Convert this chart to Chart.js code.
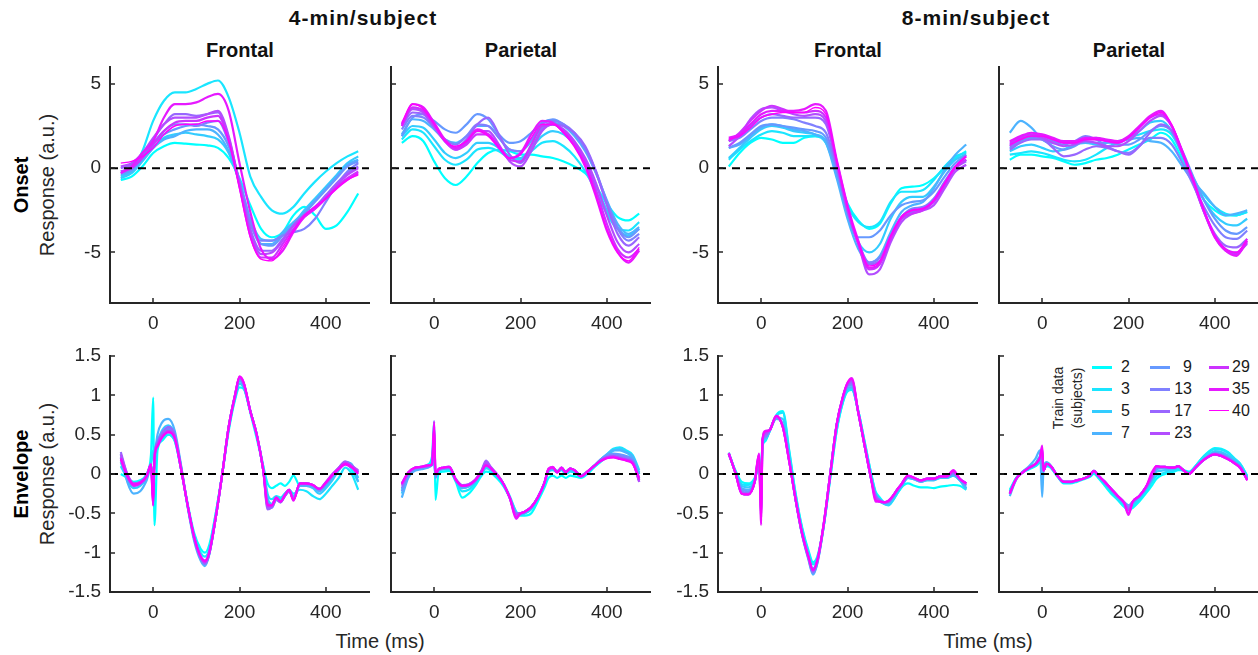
<!DOCTYPE html>
<html><head><meta charset="utf-8">
<script src="https://cdn.jsdelivr.net/npm/chart.js@4.4.1/dist/chart.umd.min.js"></script>
<style>
html,body{margin:0;padding:0;background:#fff;width:1258px;height:655px;overflow:hidden;position:relative;font-family:Arial,"Liberation Sans",Helvetica,sans-serif;}
canvas{position:absolute;}
.t{position:absolute;transform:translate(-50%,-50%);white-space:nowrap;color:#111;font-weight:bold;}
.v{position:absolute;transform:translate(-50%,-50%) rotate(-90deg);white-space:nowrap;color:#262626;}
.sw{position:absolute;height:2px;width:20px;}
.lg{position:absolute;font-size:16px;color:#1a1a1a;transform:translateY(-50%);white-space:nowrap;}
</style></head><body>
<div class="t" style="left:363px;top:18px;font-size:21px;letter-spacing:1px">4-min/subject</div>
<div class="t" style="left:976px;top:18px;font-size:21px;letter-spacing:1px">8-min/subject</div>
<div class="t" style="left:240px;top:50px;font-size:20px">Frontal</div>
<div class="t" style="left:521px;top:50px;font-size:20px">Parietal</div>
<div class="t" style="left:848px;top:50px;font-size:20px">Frontal</div>
<div class="t" style="left:1129px;top:50px;font-size:20px">Parietal</div>
<div class="v" style="left:21px;top:185px;font-size:20px;font-weight:bold;color:#000">Onset</div>
<div class="v" style="left:47px;top:185px;font-size:20px">Response (a.u.)</div>
<div class="v" style="left:21px;top:474px;font-size:20px;font-weight:bold;color:#000">Envelope</div>
<div class="v" style="left:47px;top:474px;font-size:20px">Response (a.u.)</div>
<div class="t" style="left:380px;top:641px;font-size:20px;font-weight:normal;color:#262626">Time (ms)</div>
<div class="t" style="left:988px;top:641px;font-size:20px;font-weight:normal;color:#262626">Time (ms)</div>
<div class="v" style="left:1058px;top:398px;font-size:14px">Train data</div>
<div class="v" style="left:1077px;top:398px;font-size:14px">(subjects)</div>
<div id="legend"></div>
<script>
// ---------- data ----------
const subjects = ['2','3','5','7','9','13','17','23','29','35','40'];
const xTicks = [0, 200, 400];
const onsetYTicks = [-5, 0, 5];
const envYTicks = [-1.5, -1, -0.5, 0, 0.5, 1, 1.5];
const zeroLineX = [-100, 500];

const onsetTimes = [-75,-50,-25,0,25,50,75,100,125,150,175,200,225,250,275,300,325,350,375,400,425,450,475];
const envTimes = [-75,-60,-45,-30,-15,-5,0,3,10,20,35,50,65,80,95,110,120,130,145,160,175,190,200,210,225,240,255,265,275,285,295,305,315,325,340,355,370,385,400,415,430,445,460,475];

// 4-min/subject, Frontal, Onset
const onsetFrontal4 = [
 [-0.7,-0.5,0.1,0.9,1.3,1.5,1.45,1.4,1.35,1.2,0.6,-0.6,-2.2,-3.6,-4.1,-3.8,-2.8,-2.3,-2.8,-3.6,-3.4,-2.6,-1.5],
 [-0.5,-0.2,1.0,2.8,4.0,4.5,4.5,4.7,5.0,5.2,4.2,2.1,-0.5,-1.7,-2.5,-2.7,-2.3,-1.5,-0.8,-0.2,0.3,0.7,1.0],
 [-0.6,-0.3,0.4,1.2,1.8,2.0,2.1,2.0,1.9,1.7,0.9,-0.8,-3.0,-4.2,-4.3,-3.9,-3.3,-2.5,-1.8,-1.1,-0.4,0.3,0.7],
 [-0.4,-0.2,0.5,1.2,1.7,1.9,2.2,2.3,2.3,2.0,1.0,-0.9,-3.2,-4.5,-4.5,-3.8,-3.2,-2.6,-1.9,-1.2,-0.5,0.2,0.5],
 [-0.3,-0.1,0.6,1.4,2.0,2.3,2.5,2.6,2.5,2.3,1.3,-0.7,-3.1,-4.5,-4.6,-4.0,-3.4,-2.7,-2.0,-1.3,-0.6,0.1,0.4],
 [-0.2,0.0,0.7,1.5,2.2,2.6,2.6,2.5,2.7,2.8,1.5,-0.8,-3.3,-4.3,-4.3,-4.0,-3.8,-3.6,-3.0,-2.0,-1.0,-0.2,0.3],
 [0.0,0.2,0.8,1.7,2.6,3.2,3.2,3.1,3.2,3.3,1.8,-0.9,-3.6,-4.9,-4.9,-4.2,-3.4,-2.8,-2.3,-1.6,-0.9,-0.3,0.1],
 [0.1,0.3,0.9,1.8,2.6,3.0,3.0,3.0,3.2,3.4,1.9,-1.0,-3.8,-5.1,-5.0,-4.3,-3.4,-2.8,-2.3,-1.7,-1.0,-0.4,0.0],
 [-0.2,0.0,0.6,1.4,2.2,2.7,2.8,2.8,3.0,3.1,1.7,-1.1,-4.0,-5.3,-5.3,-4.5,-3.6,-2.9,-2.4,-1.8,-1.1,-0.6,-0.2],
 [-0.3,0.1,0.9,1.6,3.0,3.8,3.8,3.9,4.2,4.4,3.4,0.3,-2.6,-4.8,-5.4,-4.9,-3.8,-2.9,-2.4,-1.8,-1.2,-0.7,-0.3],
 [0.3,0.4,0.7,1.2,2.0,2.5,2.6,2.6,2.8,2.8,1.6,-1.2,-4.1,-5.4,-5.5,-4.7,-3.7,-2.8,-2.3,-1.8,-1.2,-0.7,-0.4]
];
// 4-min/subject, Parietal, Onset
const onsetParietal4 = [
 [1.5,1.9,1.6,0.4,-0.6,-1.0,-0.5,0.3,0.9,1.1,1.0,0.8,0.8,0.7,0.6,0.4,0.1,-0.3,-1.1,-2.1,-2.9,-3.1,-2.7],
 [1.7,2.3,2.1,1.3,0.5,0.2,0.5,1.1,1.2,1.0,0.6,0.5,1.0,1.5,1.6,1.3,0.7,-0.2,-1.4,-2.7,-3.6,-3.7,-3.2],
 [1.9,2.5,2.4,1.7,0.9,0.6,0.9,1.5,1.5,1.2,0.7,0.6,1.2,1.9,2.2,2.0,1.4,0.4,-1.0,-2.5,-3.6,-4.0,-3.6],
 [2.0,2.9,2.8,2.3,1.7,1.5,1.9,2.5,2.5,1.8,1.1,1.0,1.6,2.4,2.7,2.5,1.9,1.0,-0.3,-1.9,-3.3,-3.9,-3.5],
 [1.9,3.0,3.2,2.8,2.3,2.1,2.6,3.2,2.9,2.0,1.5,1.6,2.1,2.7,2.9,2.6,2.0,1.1,-0.3,-2.0,-3.5,-4.1,-3.6],
 [2.3,3.1,3.0,2.4,1.7,1.4,1.9,2.6,2.5,1.8,1.1,1.0,1.7,2.6,2.8,2.6,2.1,1.2,-0.2,-2.0,-3.6,-4.3,-3.9],
 [2.5,3.3,3.2,2.4,1.6,1.2,1.7,2.6,3.0,2.0,0.8,0.3,1.2,2.3,2.6,2.5,2.1,1.3,-0.2,-2.2,-3.9,-4.6,-4.1],
 [2.6,3.5,3.3,2.5,1.6,1.1,1.5,2.2,2.2,1.4,0.4,0.1,1.0,2.2,2.6,2.3,1.6,0.6,-0.9,-2.8,-4.4,-5.0,-4.5],
 [2.6,3.6,3.4,2.6,1.6,1.1,1.4,2.0,2.0,1.2,0.5,0.4,1.4,2.5,2.6,2.2,1.5,0.4,-1.3,-3.3,-4.8,-5.3,-4.8],
 [2.5,3.8,3.6,2.7,1.7,1.2,1.6,2.3,2.0,1.3,0.6,0.9,2.0,2.8,2.7,2.1,1.3,0.1,-1.7,-3.7,-5.0,-5.6,-4.9],
 [2.7,3.8,3.5,2.6,1.6,1.3,1.6,2.2,1.9,1.2,0.6,0.8,1.8,2.6,2.6,2.1,1.3,0.2,-1.6,-3.6,-5.0,-5.5,-4.7]
];
// 8-min/subject, Frontal, Onset
const onsetFrontal8 = [
 [0.1,0.9,1.5,1.8,1.7,1.5,1.5,1.8,1.9,1.5,-0.3,-2.1,-3.1,-3.6,-3.3,-2.1,-1.2,-1.1,-1.0,-0.6,0.0,0.6,1.0],
 [0.5,1.1,1.6,2.0,2.2,2.1,1.9,1.9,1.9,1.6,-0.1,-2.2,-3.2,-3.5,-3.2,-2.0,-1.4,-1.4,-1.3,-0.7,0.1,0.7,0.9],
 [0.6,1.2,1.8,2.3,2.5,2.4,2.2,2.1,2.0,1.6,-0.4,-2.8,-4.4,-5.0,-4.5,-3.0,-2.0,-1.7,-1.7,-1.1,-0.2,0.5,0.8],
 [1.2,1.4,1.9,2.4,2.6,2.5,2.3,2.2,2.0,1.5,-0.6,-3.0,-4.8,-5.6,-5.2,-3.8,-2.6,-2.2,-2.0,-1.2,-0.1,0.8,1.4],
 [1.2,1.5,2.0,2.5,2.6,2.5,2.4,2.3,2.2,1.8,-0.2,-2.6,-4.1,-4.1,-3.7,-2.8,-2.2,-2.0,-1.9,-1.4,-0.5,0.3,0.8],
 [1.6,1.8,2.3,2.8,3.0,3.0,2.9,2.7,2.5,2.1,0.0,-2.6,-4.4,-5.6,-5.3,-4.0,-2.9,-2.4,-2.3,-1.8,-0.8,0.1,0.5],
 [1.7,1.9,2.5,3.0,3.2,3.1,3.0,3.0,3.0,2.6,0.2,-2.5,-4.4,-5.7,-5.5,-4.2,-3.0,-2.6,-2.4,-2.0,-1.0,0.0,0.4],
 [1.3,1.9,2.9,3.5,3.6,3.4,3.2,3.1,3.2,2.8,0.3,-2.5,-4.5,-6.3,-6.0,-4.4,-3.2,-2.7,-2.5,-2.2,-1.2,-0.2,0.2],
 [1.6,2.1,2.8,3.4,3.7,3.5,3.3,3.3,3.4,3.0,0.4,-2.3,-4.5,-6.0,-5.7,-4.2,-3.0,-2.7,-2.5,-2.0,-1.0,0.0,0.5],
 [1.8,2.0,2.6,3.2,3.4,3.4,3.4,3.5,3.8,3.4,0.5,-2.2,-4.3,-5.9,-5.6,-4.1,-2.9,-2.5,-2.4,-1.9,-0.9,0.1,0.7],
 [1.7,1.9,2.4,3.0,3.2,3.3,3.3,3.3,3.6,3.2,0.4,-2.3,-4.4,-5.8,-5.5,-4.0,-2.9,-2.5,-2.4,-1.9,-0.9,0.1,0.7]
];
// 8-min/subject, Parietal, Onset
const onsetParietal8 = [
 [0.5,0.8,0.8,0.7,0.6,0.4,0.2,0.3,0.5,0.6,0.8,1.1,1.4,1.7,2.1,1.7,0.5,-0.9,-1.9,-2.5,-2.8,-2.8,-2.6],
 [0.8,0.9,1.0,0.9,0.7,0.5,0.4,0.5,0.8,1.2,1.5,1.8,2.0,2.2,2.3,2.0,0.8,-0.6,-1.6,-2.3,-2.7,-2.8,-2.6],
 [1.0,1.3,1.4,1.2,1.0,1.1,1.4,1.5,1.4,1.3,1.5,1.8,2.2,2.7,2.8,2.2,0.8,-0.7,-1.9,-2.8,-3.3,-3.4,-3.0],
 [2.1,2.8,2.4,1.7,1.5,1.6,1.5,1.5,1.5,1.5,1.6,1.7,1.8,1.6,1.5,1.0,0.1,-0.8,-1.5,-2.3,-2.8,-2.7,-2.5],
 [1.2,1.6,1.8,1.7,1.3,1.1,1.3,1.7,1.8,1.6,1.4,1.4,1.7,2.2,2.5,2.2,1.0,-0.5,-1.9,-3.0,-3.7,-3.9,-3.5],
 [1.4,1.7,1.9,1.9,1.6,1.4,1.6,1.9,1.7,1.3,1.0,0.9,1.3,1.8,1.8,1.4,0.3,-1.0,-2.3,-3.4,-4.1,-4.2,-3.7],
 [1.1,1.5,1.7,1.7,1.2,0.7,0.8,1.1,1.3,1.2,1.0,0.8,1.3,2.1,2.6,2.2,0.8,-0.9,-2.6,-3.9,-4.6,-4.7,-4.2],
 [1.3,1.7,1.9,1.8,1.5,1.3,1.4,1.6,1.5,1.3,1.3,1.6,2.2,2.8,3.1,2.5,1.0,-0.8,-2.6,-4.0,-4.8,-5.0,-4.5],
 [1.5,1.8,2.0,1.9,1.7,1.5,1.5,1.7,1.7,1.6,1.5,1.8,2.4,3.0,3.2,2.5,0.9,-0.8,-2.6,-4.1,-4.9,-5.1,-4.4],
 [1.6,1.9,2.1,2.0,1.8,1.6,1.6,1.8,1.8,1.7,1.6,1.9,2.5,3.1,3.4,2.5,0.9,-0.7,-2.5,-4.1,-4.9,-5.2,-4.3],
 [1.4,1.7,1.9,1.9,1.7,1.5,1.5,1.7,1.7,1.6,1.5,1.8,2.4,3.0,3.3,2.6,1.0,-0.7,-2.5,-4.0,-4.8,-5.0,-4.2]
];
// 4-min/subject, Frontal, Envelope
const envFrontal4 = [
 [0.0,-0.05,-0.1,-0.08,0.0,0.25,0.97,-0.65,0.3,0.42,0.5,0.42,0.05,-0.38,-0.75,-0.95,-1.0,-0.9,-0.5,0.0,0.55,0.95,1.1,1.08,0.78,0.45,0.1,-0.12,-0.18,-0.15,-0.12,-0.15,-0.1,-0.02,-0.15,-0.12,-0.15,-0.2,-0.15,-0.05,0.05,0.15,0.05,-0.1],
 [0.1,-0.05,-0.12,-0.1,0.0,0.15,0.3,0.05,0.35,0.45,0.5,0.42,0.05,-0.4,-0.78,-1.0,-1.05,-0.95,-0.5,0.0,0.58,0.98,1.15,1.1,0.8,0.48,0.1,-0.25,-0.32,-0.28,-0.3,-0.25,-0.2,-0.25,-0.2,-0.22,-0.28,-0.32,-0.25,-0.15,-0.05,0.08,0.0,-0.2],
 [0.15,-0.08,-0.18,-0.15,-0.05,0.1,0.0,0.15,0.4,0.55,0.62,0.5,0.08,-0.42,-0.82,-1.08,-1.15,-1.0,-0.55,0.0,0.58,0.98,1.15,1.1,0.8,0.5,0.08,-0.3,-0.38,-0.3,-0.32,-0.25,-0.2,-0.28,-0.15,-0.15,-0.18,-0.25,-0.18,-0.08,0.05,0.15,0.12,-0.05],
 [0.25,-0.1,-0.25,-0.22,-0.08,0.08,-0.1,0.2,0.5,0.65,0.7,0.55,0.1,-0.42,-0.85,-1.1,-1.17,-1.02,-0.55,0.0,0.58,1.0,1.18,1.12,0.8,0.5,0.05,-0.35,-0.4,-0.32,-0.35,-0.28,-0.22,-0.3,-0.15,-0.15,-0.17,-0.22,-0.15,-0.05,0.06,0.15,0.12,-0.1],
 [0.2,-0.05,-0.15,-0.13,-0.03,0.1,-0.15,0.2,0.38,0.5,0.58,0.48,0.08,-0.4,-0.82,-1.07,-1.15,-1.02,-0.55,0.0,0.6,1.0,1.2,1.13,0.8,0.5,0.05,-0.35,-0.42,-0.32,-0.35,-0.28,-0.22,-0.3,-0.13,-0.13,-0.15,-0.2,-0.13,-0.03,0.07,0.14,0.1,0.02],
 [0.22,-0.02,-0.13,-0.12,-0.03,0.12,-0.2,0.22,0.4,0.5,0.57,0.47,0.07,-0.4,-0.81,-1.06,-1.14,-1.01,-0.55,0.0,0.6,1.0,1.21,1.14,0.8,0.5,0.05,-0.38,-0.43,-0.33,-0.36,-0.28,-0.22,-0.32,-0.13,-0.13,-0.15,-0.2,-0.12,-0.02,0.08,0.15,0.1,0.03],
 [0.28,0.0,-0.12,-0.11,-0.02,0.13,-0.3,0.22,0.4,0.52,0.6,0.5,0.06,-0.41,-0.82,-1.07,-1.14,-1.01,-0.55,0.0,0.6,1.02,1.22,1.15,0.8,0.5,0.05,-0.45,-0.42,-0.32,-0.36,-0.28,-0.21,-0.32,-0.12,-0.12,-0.14,-0.19,-0.11,-0.01,0.08,0.16,0.11,0.04],
 [0.25,0.0,-0.12,-0.1,-0.02,0.12,-0.35,0.2,0.38,0.48,0.55,0.47,0.05,-0.4,-0.8,-1.05,-1.12,-1.0,-0.55,0.0,0.6,1.01,1.23,1.15,0.8,0.5,0.05,-0.42,-0.4,-0.3,-0.35,-0.27,-0.2,-0.32,-0.12,-0.12,-0.14,-0.19,-0.1,0.0,0.08,0.15,0.1,0.05],
 [0.2,-0.02,-0.14,-0.12,-0.03,0.12,-0.4,0.2,0.36,0.47,0.54,0.46,0.05,-0.4,-0.8,-1.05,-1.12,-1.0,-0.55,0.0,0.6,1.01,1.23,1.15,0.8,0.5,0.05,-0.4,-0.4,-0.3,-0.35,-0.27,-0.2,-0.33,-0.12,-0.12,-0.14,-0.19,-0.11,-0.01,0.07,0.14,0.09,0.02],
 [0.18,-0.03,-0.15,-0.12,-0.03,0.12,-0.4,0.2,0.35,0.46,0.53,0.45,0.05,-0.4,-0.8,-1.05,-1.1,-0.99,-0.55,0.0,0.6,1.01,1.24,1.16,0.8,0.5,0.05,-0.38,-0.4,-0.3,-0.35,-0.27,-0.2,-0.34,-0.12,-0.12,-0.14,-0.19,-0.11,-0.02,0.06,0.12,0.08,0.0],
 [0.2,-0.02,-0.13,-0.11,-0.02,0.12,-0.38,0.2,0.35,0.46,0.53,0.45,0.05,-0.4,-0.8,-1.05,-1.11,-1.0,-0.55,0.0,0.6,1.01,1.24,1.16,0.8,0.5,0.05,-0.4,-0.4,-0.3,-0.35,-0.27,-0.2,-0.33,-0.12,-0.12,-0.14,-0.19,-0.11,-0.01,0.07,0.13,0.09,0.01]
];
// 4-min/subject, Parietal, Envelope
const envParietal4 = [
 [-0.12,0.0,0.06,0.08,0.12,0.22,0.67,-0.33,0.0,0.03,0.04,-0.1,-0.3,-0.25,-0.15,-0.02,0.03,0.02,-0.05,-0.15,-0.3,-0.48,-0.53,-0.53,-0.5,-0.35,-0.18,-0.05,-0.02,-0.05,-0.02,-0.05,-0.02,-0.03,-0.05,0.0,0.08,0.15,0.22,0.3,0.33,0.28,0.2,0.0],
 [-0.2,-0.02,0.05,0.07,0.1,0.15,0.3,0.0,0.05,0.06,0.06,-0.08,-0.22,-0.2,-0.12,0.0,0.07,0.05,-0.02,-0.12,-0.28,-0.48,-0.52,-0.5,-0.45,-0.3,-0.12,0.03,0.05,0.02,0.05,0.0,0.03,0.02,-0.03,0.02,0.1,0.18,0.25,0.32,0.34,0.3,0.24,0.05],
 [-0.25,-0.03,0.05,0.07,0.09,0.12,0.2,0.0,0.05,0.07,0.07,-0.07,-0.18,-0.16,-0.1,0.02,0.09,0.06,-0.01,-0.12,-0.3,-0.5,-0.52,-0.5,-0.44,-0.3,-0.12,0.04,0.06,0.03,0.06,0.02,0.05,0.03,-0.03,0.02,0.1,0.18,0.24,0.3,0.32,0.28,0.22,0.02],
 [-0.3,-0.05,0.04,0.06,0.08,0.11,0.15,-0.02,0.04,0.06,0.07,-0.08,-0.18,-0.16,-0.1,0.02,0.1,0.06,-0.01,-0.12,-0.3,-0.5,-0.5,-0.48,-0.42,-0.3,-0.12,0.05,0.07,0.04,0.07,0.03,0.06,0.04,-0.03,0.02,0.1,0.18,0.25,0.3,0.3,0.27,0.22,0.0],
 [-0.22,-0.02,0.06,0.08,0.1,0.12,0.3,-0.05,0.05,0.07,0.08,-0.08,-0.16,-0.15,-0.08,0.03,0.12,0.07,0.0,-0.12,-0.3,-0.5,-0.5,-0.48,-0.42,-0.3,-0.12,0.05,0.07,0.03,0.07,0.03,0.07,0.05,-0.02,0.03,0.1,0.18,0.24,0.26,0.25,0.23,0.18,-0.05],
 [-0.18,0.0,0.07,0.08,0.1,0.12,0.4,-0.02,0.05,0.07,0.08,-0.07,-0.15,-0.14,-0.08,0.04,0.14,0.08,0.0,-0.12,-0.3,-0.5,-0.5,-0.48,-0.42,-0.3,-0.12,0.05,0.07,0.03,0.07,0.03,0.07,0.05,-0.02,0.03,0.1,0.17,0.22,0.24,0.23,0.21,0.16,-0.08],
 [-0.15,0.01,0.08,0.09,0.1,0.12,0.5,0.0,0.06,0.08,0.09,-0.06,-0.14,-0.13,-0.08,0.05,0.17,0.1,0.0,-0.12,-0.3,-0.5,-0.5,-0.48,-0.42,-0.3,-0.12,0.06,0.08,0.03,0.08,0.03,0.07,0.05,-0.02,0.03,0.1,0.17,0.21,0.22,0.21,0.19,0.15,-0.1],
 [-0.13,0.02,0.08,0.09,0.1,0.12,0.55,0.0,0.06,0.08,0.09,-0.07,-0.15,-0.13,-0.07,0.04,0.15,0.09,0.0,-0.12,-0.3,-0.52,-0.5,-0.48,-0.42,-0.3,-0.12,0.06,0.08,0.02,0.08,0.02,0.07,0.05,-0.03,0.03,0.1,0.17,0.21,0.22,0.2,0.18,0.14,-0.1],
 [-0.12,0.02,0.08,0.09,0.11,0.12,0.6,0.0,0.06,0.08,0.09,-0.07,-0.15,-0.14,-0.08,0.03,0.12,0.08,-0.01,-0.12,-0.3,-0.55,-0.5,-0.48,-0.42,-0.3,-0.12,0.06,0.08,0.02,0.08,0.02,0.07,0.05,-0.03,0.03,0.1,0.17,0.21,0.22,0.2,0.18,0.14,-0.08],
 [-0.12,0.02,0.08,0.09,0.11,0.12,0.67,0.0,0.06,0.08,0.09,-0.07,-0.15,-0.14,-0.08,0.03,0.11,0.08,-0.01,-0.12,-0.3,-0.57,-0.5,-0.48,-0.42,-0.3,-0.12,0.07,0.09,0.02,0.08,0.02,0.07,0.05,-0.03,0.03,0.1,0.16,0.2,0.21,0.19,0.17,0.13,-0.05],
 [-0.13,0.02,0.08,0.09,0.11,0.12,0.63,0.0,0.06,0.08,0.09,-0.07,-0.15,-0.14,-0.08,0.03,0.11,0.08,-0.01,-0.12,-0.3,-0.55,-0.5,-0.48,-0.42,-0.3,-0.12,0.06,0.08,0.02,0.08,0.02,0.07,0.05,-0.03,0.03,0.1,0.16,0.2,0.21,0.19,0.17,0.13,-0.06]
];
// 8-min/subject, Frontal, Envelope
const envFrontal8 = [
 [0.25,0.05,-0.1,-0.12,-0.05,0.1,0.05,0.35,0.42,0.55,0.75,0.8,0.3,-0.25,-0.68,-0.98,-1.12,-1.05,-0.65,-0.05,0.55,0.92,1.05,1.07,0.8,0.4,0.0,-0.22,-0.3,-0.36,-0.38,-0.33,-0.25,-0.17,-0.12,-0.15,-0.17,-0.17,-0.18,-0.16,-0.15,-0.14,-0.15,-0.2],
 [0.27,0.04,-0.13,-0.14,-0.06,0.12,0.0,0.38,0.44,0.55,0.74,0.78,0.28,-0.27,-0.7,-1.0,-1.15,-1.07,-0.66,-0.05,0.56,0.93,1.06,1.08,0.8,0.4,0.0,-0.24,-0.33,-0.38,-0.4,-0.34,-0.25,-0.17,-0.05,-0.06,-0.08,-0.07,-0.07,-0.05,-0.05,-0.02,-0.08,-0.18],
 [0.26,0.03,-0.15,-0.17,-0.08,0.15,-0.1,0.4,0.45,0.55,0.72,0.7,0.22,-0.3,-0.74,-1.05,-1.2,-1.1,-0.66,-0.03,0.6,0.97,1.08,1.1,0.8,0.38,-0.04,-0.27,-0.35,-0.38,-0.39,-0.32,-0.23,-0.15,-0.05,-0.07,-0.1,-0.08,-0.08,-0.05,-0.05,-0.02,-0.08,-0.2],
 [0.27,0.03,-0.18,-0.2,-0.1,0.16,-0.2,0.42,0.46,0.55,0.7,0.62,0.18,-0.34,-0.78,-1.1,-1.28,-1.14,-0.66,0.0,0.63,0.98,1.1,1.1,0.78,0.36,-0.06,-0.28,-0.35,-0.37,-0.37,-0.3,-0.22,-0.15,-0.05,-0.07,-0.1,-0.07,-0.07,-0.04,-0.04,-0.01,-0.07,-0.18],
 [0.26,0.02,-0.2,-0.22,-0.1,0.18,-0.3,0.43,0.47,0.56,0.72,0.62,0.18,-0.33,-0.77,-1.08,-1.26,-1.13,-0.65,0.0,0.63,0.98,1.12,1.13,0.78,0.35,-0.07,-0.27,-0.33,-0.36,-0.35,-0.29,-0.21,-0.14,-0.04,-0.06,-0.09,-0.07,-0.07,-0.04,-0.04,0.0,-0.07,-0.15],
 [0.27,0.02,-0.22,-0.24,-0.1,0.2,-0.4,0.43,0.48,0.56,0.72,0.61,0.17,-0.33,-0.77,-1.08,-1.25,-1.12,-0.64,0.0,0.63,0.99,1.13,1.15,0.78,0.35,-0.07,-0.27,-0.33,-0.36,-0.35,-0.29,-0.2,-0.13,-0.03,-0.06,-0.09,-0.06,-0.06,-0.03,-0.03,0.01,-0.06,-0.14],
 [0.26,0.02,-0.24,-0.25,-0.1,0.22,-0.5,0.43,0.5,0.56,0.73,0.6,0.16,-0.33,-0.76,-1.07,-1.24,-1.11,-0.64,0.0,0.63,0.99,1.14,1.17,0.78,0.35,-0.07,-0.28,-0.34,-0.36,-0.35,-0.28,-0.2,-0.13,-0.03,-0.05,-0.08,-0.06,-0.06,-0.03,-0.03,0.02,-0.06,-0.12],
 [0.26,0.02,-0.25,-0.26,-0.1,0.24,-0.55,0.43,0.52,0.56,0.74,0.6,0.16,-0.33,-0.76,-1.06,-1.23,-1.1,-0.63,0.0,0.63,0.99,1.15,1.19,0.78,0.35,-0.07,-0.3,-0.35,-0.36,-0.35,-0.28,-0.2,-0.13,-0.02,-0.05,-0.08,-0.06,-0.06,-0.03,-0.03,0.03,-0.06,-0.12],
 [0.26,0.02,-0.25,-0.26,-0.1,0.25,-0.6,0.43,0.54,0.56,0.74,0.6,0.16,-0.33,-0.76,-1.06,-1.22,-1.1,-0.63,0.0,0.63,0.99,1.15,1.2,0.78,0.35,-0.07,-0.32,-0.35,-0.36,-0.34,-0.28,-0.2,-0.13,-0.02,-0.05,-0.08,-0.06,-0.06,-0.03,-0.03,0.04,-0.06,-0.12],
 [0.26,0.02,-0.25,-0.26,-0.1,0.26,-0.65,0.43,0.55,0.56,0.74,0.6,0.16,-0.33,-0.76,-1.06,-1.22,-1.1,-0.63,0.0,0.63,1.0,1.16,1.22,0.78,0.35,-0.07,-0.35,-0.35,-0.36,-0.34,-0.28,-0.2,-0.13,-0.02,-0.05,-0.08,-0.06,-0.06,-0.03,-0.03,0.05,-0.06,-0.12],
 [0.26,0.02,-0.25,-0.26,-0.1,0.25,-0.62,0.43,0.54,0.56,0.74,0.6,0.16,-0.33,-0.76,-1.06,-1.22,-1.1,-0.63,0.0,0.63,1.0,1.16,1.21,0.78,0.35,-0.07,-0.33,-0.35,-0.36,-0.34,-0.28,-0.2,-0.13,-0.02,-0.05,-0.08,-0.06,-0.06,-0.03,-0.03,0.04,-0.06,-0.12]
];
// 8-min/subject, Parietal, Envelope
const envParietal8 = [
 [-0.2,-0.05,0.02,0.06,0.1,0.15,0.2,0.05,0.1,0.08,-0.03,-0.12,-0.12,-0.1,-0.07,-0.04,0.0,-0.05,-0.15,-0.25,-0.33,-0.42,-0.46,-0.43,-0.35,-0.25,-0.14,-0.06,-0.02,0.0,0.02,0.03,0.05,0.05,0.03,0.1,0.2,0.28,0.33,0.32,0.28,0.2,0.12,-0.02],
 [-0.22,-0.05,0.02,0.07,0.11,0.16,0.22,0.05,0.11,0.08,-0.03,-0.11,-0.11,-0.09,-0.06,-0.03,0.02,-0.04,-0.13,-0.23,-0.32,-0.4,-0.44,-0.4,-0.33,-0.22,-0.1,-0.02,0.0,0.02,0.03,0.04,0.06,0.05,0.02,0.1,0.2,0.27,0.32,0.31,0.27,0.2,0.12,-0.03],
 [-0.25,-0.06,0.03,0.08,0.14,0.22,0.15,0.05,0.13,0.1,-0.02,-0.1,-0.1,-0.08,-0.06,-0.02,0.03,-0.03,-0.12,-0.21,-0.3,-0.38,-0.42,-0.38,-0.3,-0.2,-0.07,0.03,0.04,0.05,0.05,0.06,0.08,0.05,0.01,0.08,0.17,0.24,0.29,0.28,0.24,0.18,0.1,-0.04],
 [-0.28,-0.07,0.03,0.1,0.2,0.3,-0.29,0.05,0.15,0.11,-0.02,-0.1,-0.11,-0.09,-0.06,-0.02,0.04,-0.02,-0.1,-0.2,-0.28,-0.36,-0.4,-0.36,-0.29,-0.18,-0.05,0.06,0.07,0.07,0.07,0.07,0.1,0.06,0.01,0.08,0.16,0.23,0.27,0.26,0.22,0.16,0.08,-0.05],
 [-0.25,-0.06,0.02,0.08,0.13,0.2,0.1,0.04,0.13,0.1,-0.02,-0.1,-0.1,-0.08,-0.06,-0.02,0.04,-0.02,-0.1,-0.19,-0.28,-0.36,-0.4,-0.35,-0.28,-0.17,-0.05,0.07,0.08,0.08,0.08,0.08,0.1,0.06,0.01,0.08,0.16,0.22,0.26,0.25,0.21,0.15,0.08,-0.06],
 [-0.24,-0.06,0.02,0.08,0.13,0.2,0.2,0.04,0.13,0.1,-0.02,-0.1,-0.1,-0.08,-0.06,-0.02,0.04,-0.02,-0.1,-0.19,-0.28,-0.36,-0.42,-0.35,-0.28,-0.17,-0.04,0.08,0.08,0.08,0.08,0.08,0.1,0.06,0.0,0.08,0.16,0.22,0.26,0.24,0.2,0.14,0.08,-0.06],
 [-0.24,-0.06,0.02,0.08,0.13,0.21,0.25,0.04,0.13,0.1,-0.02,-0.1,-0.1,-0.08,-0.06,-0.02,0.04,-0.02,-0.1,-0.19,-0.28,-0.36,-0.44,-0.35,-0.28,-0.17,-0.03,0.09,0.09,0.09,0.08,0.08,0.1,0.06,0.0,0.08,0.16,0.22,0.25,0.23,0.19,0.14,0.07,-0.07],
 [-0.24,-0.06,0.02,0.08,0.13,0.21,0.3,0.04,0.13,0.1,-0.02,-0.1,-0.1,-0.08,-0.06,-0.02,0.04,-0.02,-0.1,-0.19,-0.28,-0.36,-0.46,-0.35,-0.28,-0.17,-0.02,0.1,0.09,0.09,0.08,0.08,0.1,0.06,0.0,0.08,0.16,0.22,0.25,0.23,0.19,0.14,0.07,-0.07],
 [-0.25,-0.06,0.02,0.08,0.13,0.21,0.33,0.04,0.13,0.1,-0.02,-0.1,-0.1,-0.08,-0.06,-0.02,0.04,-0.02,-0.1,-0.19,-0.28,-0.37,-0.5,-0.35,-0.28,-0.17,0.0,0.1,0.09,0.09,0.08,0.08,0.1,0.06,0.0,0.08,0.16,0.22,0.25,0.23,0.19,0.14,0.07,-0.08],
 [-0.25,-0.06,0.02,0.08,0.13,0.21,0.36,0.04,0.13,0.1,-0.02,-0.1,-0.1,-0.08,-0.06,-0.02,0.04,-0.02,-0.1,-0.19,-0.28,-0.37,-0.52,-0.35,-0.28,-0.17,0.03,0.1,0.09,0.09,0.08,0.08,0.1,0.06,0.0,0.08,0.16,0.22,0.25,0.23,0.19,0.14,0.07,-0.08],
 [-0.25,-0.06,0.02,0.08,0.13,0.21,0.34,0.04,0.13,0.1,-0.02,-0.1,-0.1,-0.08,-0.06,-0.02,0.04,-0.02,-0.1,-0.19,-0.28,-0.37,-0.5,-0.35,-0.28,-0.17,0.02,0.1,0.09,0.09,0.08,0.08,0.1,0.06,0.0,0.08,0.16,0.22,0.25,0.23,0.19,0.14,0.07,-0.08]
];

// ---------- styles ----------
const colors = ['#00FFFF','#1AE5FF','#33CCFF','#4DB3FF','#6699FF','#8080FF','#9966FF','#B34DFF','#CC33FF','#E61AFF','#FF00FF'];
const widths = [2.2,2.2,2.2,2.2,2.2,2.2,2.2,2.2,2.2,2.2,1.4];
const FONT = 'Arial, "Liberation Sans", Helvetica, sans-serif';
const AX = '#262626';

const panels = [
 {L:110,R:369,T:67,B:303,times:onsetTimes,series:onsetFrontal4,ymin:-8,ymax:6,yt:onsetYTicks,labels:true},
 {L:391,R:650,T:67,B:303,times:onsetTimes,series:onsetParietal4,ymin:-8,ymax:6,yt:onsetYTicks,labels:false},
 {L:718,R:977,T:67,B:303,times:onsetTimes,series:onsetFrontal8,ymin:-8,ymax:6,yt:onsetYTicks,labels:true},
 {L:999,R:1258,T:67,B:303,times:onsetTimes,series:onsetParietal8,ymin:-8,ymax:6,yt:onsetYTicks,labels:false},
 {L:110,R:369,T:356,B:592,times:envTimes,series:envFrontal4,ymin:-1.5,ymax:1.5,yt:envYTicks,labels:true},
 {L:391,R:650,T:356,B:592,times:envTimes,series:envParietal4,ymin:-1.5,ymax:1.5,yt:envYTicks,labels:false},
 {L:718,R:977,T:356,B:592,times:envTimes,series:envFrontal8,ymin:-1.5,ymax:1.5,yt:envYTicks,labels:true},
 {L:999,R:1258,T:356,B:592,times:envTimes,series:envParietal8,ymin:-1.5,ymax:1.5,yt:envYTicks,labels:false}
];

const problems = [];
panels.forEach((p,pi)=>p.series.forEach((s,si)=>{ if(s.length!==p.times.length) problems.push('panel '+pi+' series '+si+' has '+s.length+' vs '+p.times.length); }));

const inTicks = {
 id:'inTicks',
 afterDraw(chart, args, opts){
  const {ctx, chartArea:a, scales:{x,y}} = chart;
  ctx.save(); ctx.strokeStyle = AX; ctx.lineWidth = 1.5; ctx.beginPath();
  opts.xt.forEach(v=>{ const px = Math.round(x.getPixelForValue(v)); ctx.moveTo(px, a.bottom); ctx.lineTo(px, a.bottom-5); });
  opts.yt.forEach(v=>{ const py = Math.round(y.getPixelForValue(v)); ctx.moveTo(a.left, py); ctx.lineTo(a.left+5, py); });
  ctx.stroke(); ctx.restore();
 }
};

function zeroPad(s){ s.paddingTop = 0; s.paddingBottom = 0; s.paddingLeft = 0; s.paddingRight = 0; }

panels.forEach(p=>{
 const c = document.createElement('canvas');
 const W = p.R - p.L + 70, H = p.B - p.T + 50;
 c.width = W; c.height = H; c.style.left = (p.L-60)+'px'; c.style.top = (p.T-10)+'px';
 document.body.appendChild(c);
 const datasets = p.series.map((vals,i)=>({
  label: subjects[i],
  data: p.times.map((t,j)=>({x:t, y:vals[j]})),
  borderColor: colors[i], borderWidth: widths[i], pointRadius: 0, fill: false,
  cubicInterpolationMode: 'monotone', order: 20 - i
 }));
 datasets.push({label:'zero', data: zeroLineX.map(x=>({x, y:0})), borderColor:'#000', borderWidth:2, borderDash:[8,6], pointRadius:0, order:0});
 new Chart(c, {
  type:'line',
  data:{datasets},
  options:{
   responsive:false, animation:false, devicePixelRatio:1,
   layout:{padding:{left:0, top:10, right:10, bottom:0}},
   plugins:{legend:{display:false}, tooltip:{enabled:false}, inTicks:{xt:xTicks, yt:p.yt}},
   scales:{
    x:{type:'linear', min:-100, max:500,
       afterBuildTicks:s=>{ s.ticks = xTicks.map(v=>({value:v})); },
       afterFit:s=>{ s.height = 40; zeroPad(s); },
       grid:{display:false, drawTicks:false},
       border:{display:true, color:AX, width:2},
       ticks:{padding:9, color:AX, font:{family:FONT, size:19}, maxRotation:0, autoSkip:false}},
    y:{type:'linear', min:p.ymin, max:p.ymax,
       afterBuildTicks:s=>{ s.ticks = p.yt.map(v=>({value:v})); },
       afterFit:s=>{ s.width = 60; zeroPad(s); },
       grid:{display:false, drawTicks:false},
       border:{display:true, color:AX, width:2},
       ticks:{display:p.labels, padding:9, color:AX, font:{family:FONT, size:19}, autoSkip:false, callback:v=>String(v)}}
   }
  },
  plugins:[inTicks]
 });
});

// legend (HTML)
const legendPos = [
 {x:1092,y:367},{x:1092,y:389},{x:1092,y:411},{x:1092,y:433},
 {x:1150,y:367},{x:1150,y:389},{x:1150,y:411},{x:1150,y:433},
 {x:1209,y:367},{x:1209,y:389},{x:1209,y:411}
];
const lg = document.getElementById('legend');
subjects.forEach((s,i)=>{
 const pos = legendPos[i];
 const sw = document.createElement('div'); sw.className='sw';
 sw.style.left = pos.x+'px'; sw.style.top = (pos.y-1)+'px'; sw.style.background = colors[i];
 sw.style.height = (i===10?1.3:2.5)+'px';
 lg.appendChild(sw);
 const t = document.createElement('div'); t.className='lg'; t.textContent = s;
 if (i>=4 && i<=7) { t.style.left = (pos.x+22)+'px'; t.style.width='20px'; t.style.textAlign='right'; }
 else { t.style.left = (pos.x+29)+'px'; if(i>=8) t.style.left=(pos.x+23)+'px'; }
 t.style.top = pos.y+'px';
 lg.appendChild(t);
});
if (problems.length) throw new Error(problems.join('; '));
</script>
</body></html>
